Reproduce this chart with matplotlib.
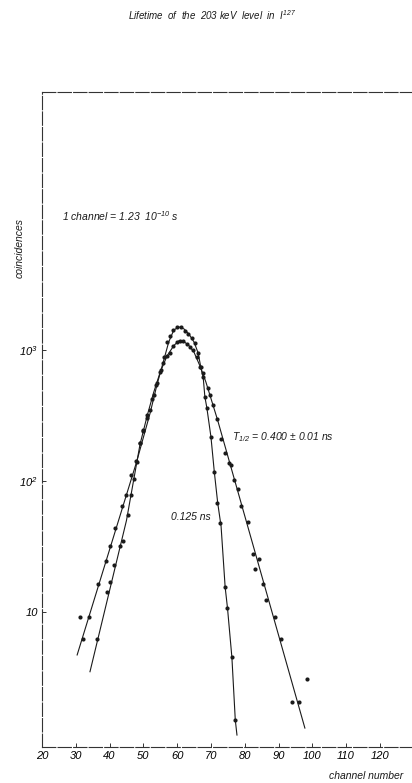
import matplotlib
matplotlib.use("Agg")
import matplotlib.pyplot as plt
from matplotlib.ticker import FixedLocator, NullLocator

# ---------------- data ----------------
prompt_ch = [31.2, 32.1, 33.9, 36.6, 38.9, 40.0, 41.5, 43.8, 44.9, 46.2, 47.9,
             49.0, 49.9, 51.0, 52.0, 53.0, 54.0, 55.2, 56.1, 57.0, 57.9, 58.8,
             60.0, 61.1, 62.3, 63.2, 64.4, 65.3, 66.2, 67.0, 67.7, 68.2, 68.8,
             70.0, 71.0, 71.8, 72.8, 74.1, 74.8, 76.2, 77.1]
prompt_counts = [9.2, 6.2, 9.2, 16.4, 24.5, 32, 44, 64, 78, 112, 142,
                 195, 245, 300, 350, 455, 560, 700, 880, 1150, 1280, 1420,
                 1500, 1500, 1400, 1325, 1235, 1130, 950, 740, 620, 440, 360,
                 217, 117, 68, 48, 15.6, 10.7, 4.5, 1.5]

delayed_ch = [36.3, 39.2, 40.1, 41.3, 43.1, 43.9, 45.4, 46.4, 47.2, 48.2, 49.0,
              49.9, 51.2, 52.5, 53.6, 54.8, 55.8, 57.0, 57.9, 58.8, 60.0, 60.8,
              61.7, 62.9, 63.8, 64.7, 65.9, 66.7, 67.7, 69.1, 69.7, 70.6, 71.9,
              72.9, 74.1, 75.3, 75.9, 76.8, 77.9, 78.9, 80.9, 82.4, 83.0, 84.2,
              85.4, 86.3, 88.9, 90.7, 94.0, 96.0, 98.4]
delayed_counts = [6.2, 14.2, 17, 23, 32, 35, 55, 78, 103, 140, 195,
                  240, 320, 420, 540, 680, 790, 900, 950, 1070, 1160, 1175,
                  1170, 1110, 1055, 1000, 885, 740, 667, 513, 453, 380, 295,
                  209, 164, 137, 133, 102, 87, 64, 48.6, 27.7, 21.3, 25.5,
                  16.4, 12.4, 9.2, 6.2, 2.06, 2.06, 3.1]

# fitted curves (knots)
prompt_fit_ch = [30.4, 48.0, 52.0, 54.0, 56.0, 57.5, 59.0, 60.5, 62.0, 63.5,
                 65.0, 66.2, 67.0, 67.7, 68.2, 68.8, 70.0, 71.0, 72.0, 73.0,
                 74.2, 74.9, 76.2, 77.2, 77.7]
prompt_fit_counts = [4.7, 140, 330, 540, 830, 1150, 1420, 1500, 1450, 1320,
                     1150, 950, 740, 620, 440, 360, 217, 117, 68, 45,
                     15.5, 10.7, 4.5, 1.5, 1.15]

delayed_fit_ch = [34.2, 45.0, 49.0, 51.2, 53.0, 55.0, 57.0, 59.0, 60.5, 62.0,
                  63.5, 65.0, 66.7, 68.5, 70.6, 72.0, 97.8]
delayed_fit_counts = [3.5, 50, 190, 320, 470, 680, 900, 1080, 1175, 1160,
                      1080, 960, 760, 570, 380, 290, 1.3]

x_ticks = [20, 30, 40, 50, 60, 70, 80, 90, 100, 110, 120]
y_ticks = [10, 100, 1000]
y_ticklabels = ["10", "10$^2$", "10$^3$"]

# ---------------- figure ----------------
plt.rcParams["font.family"] = ["Liberation Sans", "DejaVu Sans"]
plt.rcParams["mathtext.fontset"] = "custom"
plt.rcParams["mathtext.rm"] = "Liberation Sans:italic"
plt.rcParams["mathtext.it"] = "Liberation Sans:italic"

W, H = 412, 783
fig = plt.figure(figsize=(W / 100, H / 100), dpi=100)
ax = fig.add_axes([42 / W, (H - 747) / H, 1 - 42 / W, (747 - 92) / H])

ax.set_yscale("log")
ax.set_xlim(20, 129.5)
ax.set_ylim(0.932, 93200)

ink = "#1a1a1a"
ax.plot(prompt_fit_ch, prompt_fit_counts, color=ink, lw=0.8)
ax.plot(delayed_fit_ch, delayed_fit_counts, color=ink, lw=0.8)
ax.plot(prompt_ch, prompt_counts, "o", color=ink, ms=3, mew=0)
ax.plot(delayed_ch, delayed_counts, "o", color=ink, ms=3, mew=0)

for s in ["left", "top", "bottom"]:
    ax.spines[s].set_linewidth(0.8)
    ax.spines[s].set_color("#333333")
    ax.spines[s].set_linestyle((0, (12, 2)))
ax.spines["right"].set_visible(False)

ax.xaxis.set_major_locator(FixedLocator(x_ticks))
ax.yaxis.set_major_locator(FixedLocator(y_ticks))
ax.yaxis.set_minor_locator(NullLocator())
ax.set_yticklabels(y_ticklabels)
ax.tick_params(axis="both", which="major", length=3, width=0.7,
               direction="in", labelsize=8, color="#333333", pad=3)
for lab in ax.get_xticklabels() + ax.get_yticklabels():
    lab.set_fontstyle("italic")

tstyle = dict(fontstyle="italic", color=ink)
fig.text(212 / W, 1 - 15 / H, "Lifetime  of  the  203 keV  level  in  I$^{127}$",
         ha="center", va="center", fontsize=7, **tstyle)
fig.text(20 / W, 1 - 248 / H, "coincidences", rotation=90,
         ha="center", va="center", fontsize=7.5, **tstyle)
fig.text(62 / W, 1 - 216 / H, "1 channel = 1.23  10$^{-10}$ s",
         ha="left", va="center", fontsize=7.5, **tstyle)
fig.text(232 / W, 1 - 437 / H, "T$_{1/2}$ = 0.400 ± 0.01 ns",
         ha="left", va="center", fontsize=7.5, **tstyle)
fig.text(171 / W, 1 - 517 / H, "0.125 ns",
         ha="left", va="center", fontsize=7.5, **tstyle)
fig.text(403 / W, 1 - 776 / H, "channel number",
         ha="right", va="center", fontsize=7.5, **tstyle)

fig.savefig("out.png", dpi=100)
